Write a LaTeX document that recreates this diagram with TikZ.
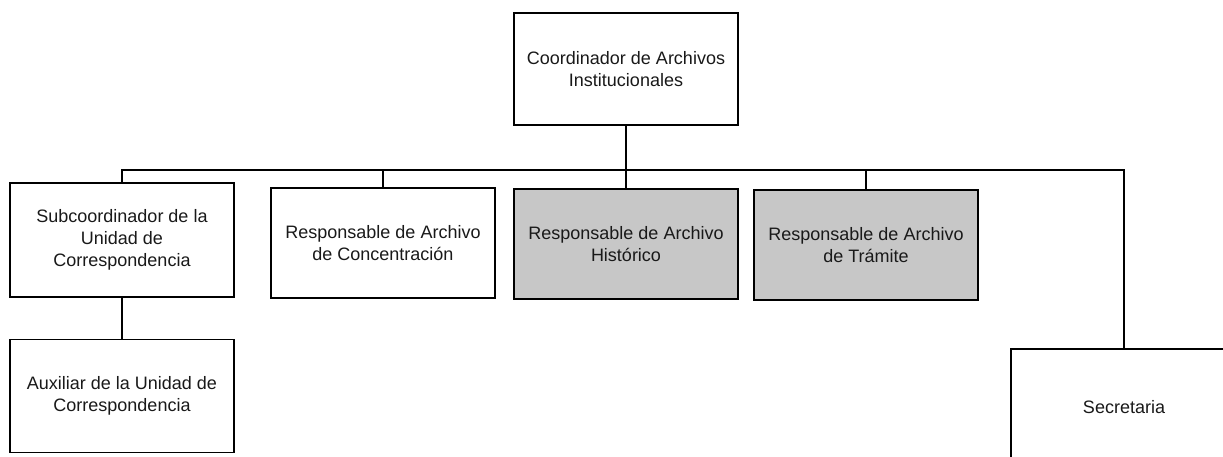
\documentclass[tikz,border=0pt]{standalone}
\usepackage{fontspec}
\setmainfont{Liberation Sans}
\begin{document}
\begin{tikzpicture}[x=1pt,y=-1pt,
  box/.style={draw, line width=1.2pt, align=center, minimum width=224pt,
    minimum height=110pt, inner sep=0pt, text=black!90,
    font=\fontsize{18}{22}\selectfont},
  shaded/.style={box, fill=black!22},
  link/.style={line width=1.2pt}]
\useasboundingbox (0,0) rectangle (1223,456);
% top
\node[box, minimum height=112pt] (coord) at (626,69) {Coordinador de Archivos\\Institucionales};
% second row
\node[box, minimum height=114pt] (sub) at (122,240) {Subcoordinador de la\\Unidad de\\Correspondencia};
\node[box] (conc) at (383,243) {Responsable de Archivo\\de Concentraci\'on};
\node[shaded] (hist) at (626,244) {Responsable de Archivo\\Hist\'orico};
\node[shaded] (tram) at (866,245) {Responsable de Archivo\\de Tr\'amite};
% lower boxes
\node[box, minimum height=113pt] (aux) at (122,396) {Auxiliar de la Unidad de\\Correspondencia};
\node[box, minimum width=226pt, minimum height=116pt] (sec) at (1124,407) {Secretaria};
% connectors
\coordinate (bus) at (626,170);
\draw[link] (coord.south) -- (hist.north);
\draw[link] (bus) -| (sub.north);
\draw[link] (bus) -| (conc.north);
\draw[link] (bus) -| (tram.north);
\draw[link] (bus) -| (sec.north);
\draw[link] (sub.south) -- (aux.north);
\end{tikzpicture}
\end{document}
